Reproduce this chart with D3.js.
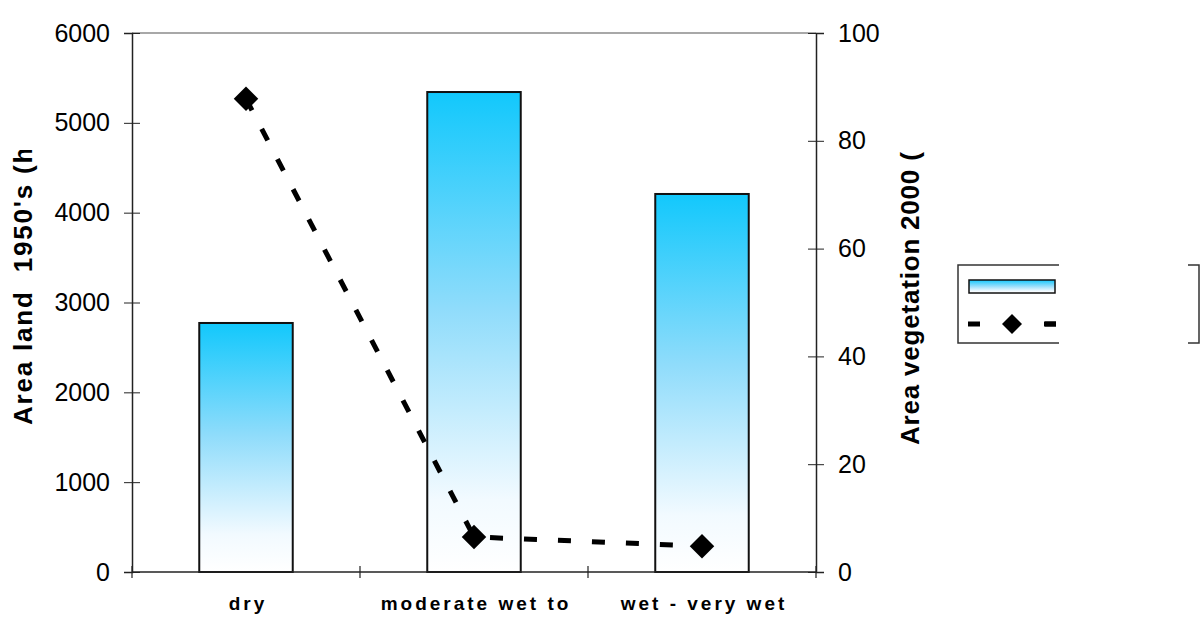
<!DOCTYPE html>
<html>
<head>
<meta charset="utf-8">
<script src="https://cdn.jsdelivr.net/npm/d3@7"></script>
<style>
  body { margin: 0; background: #fff; }
  svg { font-family: "Liberation Sans", Arial, sans-serif; }
</style>
</head>
<body>
<div id="chart"></div>
<script>
// data
var categories = ["dry", "moderate wet to", "wet - very wet"];
var land1950 = [2772, 5343, 4208];      // bars, left axis
var veg2000 = [87.8, 6.5, 4.8];         // dashed line, right axis
var leftTicks = [0, 1000, 2000, 3000, 4000, 5000, 6000];
var rightTicks = [0, 20, 40, 60, 80, 100];

var W = 1202, H = 620;
var margin = { top: 33, right: 386, bottom: 48, left: 132 };
var width = W - margin.left - margin.right,
    height = H - margin.top - margin.bottom;

var svg = d3.select("#chart").append("svg")
    .attr("width", W)
    .attr("height", H);

var defs = svg.append("defs");
var grad = defs.append("linearGradient")
    .attr("id", "barGrad")
    .attr("x1", 0).attr("y1", 0).attr("x2", 0).attr("y2", 1);
grad.append("stop").attr("offset", "0").attr("stop-color", "#12c8fc");
grad.append("stop").attr("offset", "0.45").attr("stop-color", "#8fdcfb");
grad.append("stop").attr("offset", "0.85").attr("stop-color", "#f2faff");
grad.append("stop").attr("offset", "1").attr("stop-color", "#ffffff");

var g = svg.append("g")
    .attr("transform", "translate(" + margin.left + "," + margin.top + ")");

var x = d3.scaleBand()
    .domain(categories)
    .range([0, width])
    .paddingInner(0.59)
    .paddingOuter(0.295);

var yL = d3.scaleLinear().domain([0, 6000]).range([height, 0]);
var yR = d3.scaleLinear().domain([0, 100]).range([height, 0]);

// top border of plot area
g.append("line")
    .attr("x1", 0).attr("x2", width)
    .attr("y1", 0).attr("y2", 0)
    .attr("stroke", "#a8a8a8")
    .attr("stroke-width", 2);

// bars
g.selectAll("rect.bar")
    .data(land1950)
    .enter()
    .append("rect")
    .attr("class", "bar")
    .attr("x", (d, i) => x(categories[i]))
    .attr("y", d => yL(d))
    .attr("width", x.bandwidth())
    .attr("height", d => height - yL(d))
    .attr("fill", "url(#barGrad)")
    .attr("stroke", "#111")
    .attr("stroke-width", 2);

// left axis
var leftAxis = g.append("g")
    .call(d3.axisLeft(yL).tickValues(leftTicks).tickSize(8).tickPadding(14).tickFormat(d3.format("d")));
leftAxis.select(".domain").attr("stroke", "#222").attr("stroke-width", 1.5);
leftAxis.selectAll(".tick line").attr("x1", 8).attr("stroke", "#222");
leftAxis.selectAll(".tick text")
    .attr("font-size", 25)
    .attr("font-family", "Liberation Sans, Arial, sans-serif")
    .attr("fill", "#000");

// right axis
var rightAxis = g.append("g")
    .attr("transform", "translate(" + width + ",0)")
    .call(d3.axisRight(yR).tickValues(rightTicks).tickSize(8).tickPadding(14));
rightAxis.select(".domain").attr("stroke", "#222").attr("stroke-width", 1.5);
rightAxis.selectAll(".tick line").attr("x1", -8).attr("stroke", "#222");
rightAxis.selectAll(".tick text")
    .attr("font-size", 25)
    .attr("font-family", "Liberation Sans, Arial, sans-serif")
    .attr("fill", "#000");

// bottom axis with ticks on the category boundaries
g.append("line")
    .attr("x1", 0).attr("x2", width)
    .attr("y1", height).attr("y2", height)
    .attr("stroke", "#222").attr("stroke-width", 1.5);
g.selectAll("line.xtick")
    .data(d3.range(categories.length + 1))
    .enter()
    .append("line")
    .attr("class", "xtick")
    .attr("x1", i => i * x.step()).attr("x2", i => i * x.step())
    .attr("y1", height - 6).attr("y2", height + 6)
    .attr("stroke", "#222").attr("stroke-width", 1.2);

g.selectAll("text.xlab")
    .data(categories)
    .enter()
    .append("text")
    .attr("class", "xlab")
    .attr("x", d => x(d) + x.bandwidth() / 2 + 2)
    .attr("y", height + 38)
    .attr("text-anchor", "middle")
    .attr("font-size", 19)
    .attr("font-weight", "bold")
    .attr("letter-spacing", "3px")
    .text(d => d);

// dashed line with diamonds
var cx = (d, i) => x(categories[i]) + x.bandwidth() / 2;
var line = d3.line()
    .x(cx)
    .y(d => yR(d));

g.append("path")
    .datum(veg2000)
    .attr("d", line)
    .attr("fill", "none")
    .attr("stroke", "#000")
    .attr("stroke-width", 5)
    .attr("stroke-dasharray", "13,21");

var diamond = d3.symbol().type(d3.symbolSquare).size(300);
g.selectAll("path.marker")
    .data(veg2000)
    .enter()
    .append("path")
    .attr("class", "marker")
    .attr("d", diamond)
    .attr("transform", (d, i) => "translate(" + cx(d, i) + "," + yR(d) + ") rotate(45)")
    .attr("fill", "#000");

// axis titles (cut off like in the original)
defs.append("clipPath").attr("id", "clipL")
    .append("rect").attr("x", 0).attr("y", 150).attr("width", 60).attr("height", 470);
defs.append("clipPath").attr("id", "clipR")
    .append("rect").attr("x", 880).attr("y", 150).attr("width", 60).attr("height", 470);

svg.append("g").attr("clip-path", "url(#clipL)")
    .append("text")
    .attr("transform", "translate(32,425) rotate(-90)")
    .attr("font-size", 26)
    .attr("font-weight", "bold")
    .attr("letter-spacing", "1.8px")
    .attr("xml:space", "preserve")
    .text("Area land  1950's (ha)");

svg.append("g").attr("clip-path", "url(#clipR)")
    .append("text")
    .attr("transform", "translate(919,445) rotate(-90)")
    .attr("font-size", 26)
    .attr("font-weight", "bold")
    .attr("letter-spacing", "0.8px")
    .text("Area vegetation 2000 (ha)");

// legend (text area is blanked out in the original)
var leg = svg.append("g").attr("transform", "translate(958,265)");
leg.append("rect")
    .attr("width", 241).attr("height", 78)
    .attr("fill", "#fff")
    .attr("stroke", "#333").attr("stroke-width", 1.5);
leg.append("rect")
    .attr("x", 101).attr("y", -3)
    .attr("width", 129).attr("height", 85)
    .attr("fill", "#fff");
leg.append("rect")
    .attr("x", 11).attr("y", 15)
    .attr("width", 86).attr("height", 13)
    .attr("fill", "url(#barGrad)")
    .attr("stroke", "#111").attr("stroke-width", 1.5);
leg.append("line")
    .attr("x1", 10).attr("x2", 98)
    .attr("y1", 59).attr("y2", 59)
    .attr("stroke", "#000").attr("stroke-width", 5)
    .attr("stroke-dasharray", "12,64");
leg.append("line")
    .attr("x1", 87).attr("x2", 98)
    .attr("y1", 59).attr("y2", 59)
    .attr("stroke", "#000").attr("stroke-width", 5);
leg.append("path")
    .attr("d", d3.symbol().type(d3.symbolSquare).size(200))
    .attr("transform", "translate(54,59) rotate(45)")
    .attr("fill", "#000");
</script>
</body>
</html>
